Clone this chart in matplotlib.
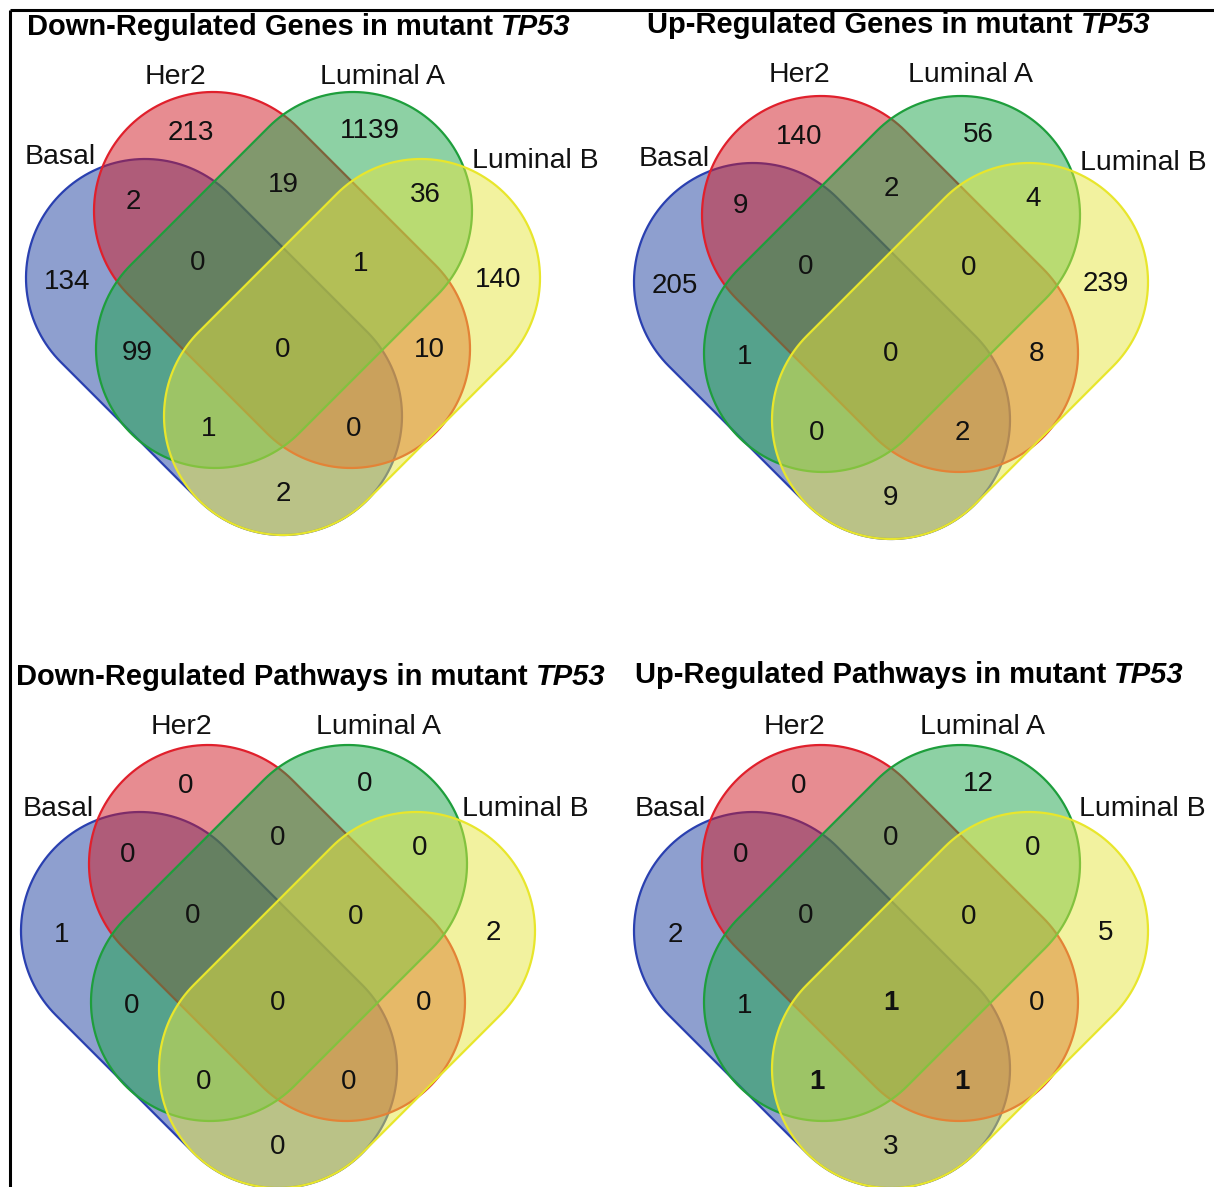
import numpy as np
import matplotlib.pyplot as plt
from matplotlib.patches import Polygon
from matplotlib.colors import to_rgba

plt.rcParams['font.family'] = ['Liberation Sans', 'DejaVu Sans']

# set names and region counts (order of regions below)
set_names = ['Basal', 'Her2', 'Luminal A', 'Luminal B']
regions = ['Her2', 'LumA', 'Basal&Her2', 'Her2&LumA', 'LumA&LumB',
           'Basal', 'Basal&Her2&LumA', 'Her2&LumA&LumB', 'LumB',
           'Basal&LumA', 'All', 'Her2&LumB',
           'Basal&LumA&LumB', 'Basal&Her2&LumB', 'Basal&LumB']

down_genes = [213, 1139, 2, 19, 36, 134, 0, 1, 140, 99, 0, 10, 1, 0, 2]
up_genes = [140, 56, 9, 2, 4, 205, 0, 0, 239, 1, 0, 8, 0, 2, 9]
down_pathways = [0, 0, 0, 0, 0, 1, 0, 0, 2, 0, 0, 0, 0, 0, 0]
up_pathways = [0, 12, 0, 0, 0, 2, 0, 0, 5, 1, 1, 0, 1, 1, 3]

titles = ['Down-Regulated Genes in mutant ', 'Up-Regulated Genes in mutant ',
          'Down-Regulated Pathways in mutant ', 'Up-Regulated Pathways in mutant ']
panel_data = [down_genes, up_genes, down_pathways, up_pathways]
bold_regions = [[], [], [], ['All', 'Basal&LumA&LumB', 'Basal&Her2&LumB']]

# ---- layout (pixels) ----
W, H = 1214, 1187
origins = [(283, 347), (891, 351), (278, 1000), (891, 1000)]
title_pos = [(27, 27), (647, 25), (16, 677), (635, 675)]
label_offsets = [
    [(-223, -190), (-108, -270), (100, -270), (252, -186)],
    [(-217, -192), (-92, -276), (79, -276), (252, -188)],
    [(-220, -191), (-97, -273), (101, -273), (247, -191)],
    [(-221, -191), (-97, -273), (92, -273), (251, -191)],
]
num_offsets = {
    'Her2': (-92, -214), 'LumA': (87, -216), 'Basal&Her2': (-150, -145),
    'Her2&LumA': (0, -162), 'LumA&LumB': (142, -152), 'Basal': (-216, -65),
    'Basal&Her2&LumA': (-85, -84), 'Her2&LumA&LumB': (78, -83),
    'LumB': (215, -67), 'Basal&LumA': (-146, 6), 'All': (0, 3),
    'Her2&LumB': (146, 3), 'Basal&LumA&LumB': (-74, 82),
    'Basal&Her2&LumB': (71, 82), 'Basal&LumB': (0, 147),
}

R = 119
# capsule end centres relative to panel origin
capsules = [
    ((-138, -69), (0, 69)),     # Basal
    ((-70, -136), (68, 2)),     # Her2
    ((70, -136), (-68, 2)),     # Luminal A
    ((138, -69), (0, 69)),      # Luminal B
]
fills = ['#1f41a0', '#d11a24', '#1da54b', '#e6e641']
edges = ['#2a40b0', '#e0202c', '#1e9e3c', '#e8e62c']


def capsule(c1, c2, r, n=80):
    c1, c2 = np.array(c1, float), np.array(c2, float)
    d = c2 - c1
    th = np.arctan2(d[1], d[0])
    a2 = np.linspace(th - np.pi / 2, th + np.pi / 2, n)
    a1 = np.linspace(th + np.pi / 2, th + 3 * np.pi / 2, n)
    p2 = c2 + r * np.column_stack([np.cos(a2), np.sin(a2)])
    p1 = c1 + r * np.column_stack([np.cos(a1), np.sin(a1)])
    return np.vstack([p2, p1])


fig = plt.figure(figsize=(W / 100, H / 100), dpi=100)
ax = fig.add_axes([0, 0, 1, 1])
ax.set_xlim(0, W)
ax.set_ylim(H, 0)
ax.axis('off')

# frame lines
ax.plot([10, W], [10, 10], color='black', lw=2.2, solid_capstyle='butt')
ax.plot([10, 10], [10, H], color='black', lw=2.2, solid_capstyle='butt')

for k in range(4):
    ox, oy = origins[k]
    for (c1, c2), fc, ec in zip(capsules, fills, edges):
        pts = capsule((ox + c1[0], oy + c1[1]), (ox + c2[0], oy + c2[1]), R)
        ax.add_patch(Polygon(pts, closed=True, facecolor=to_rgba(fc, 0.5),
                             edgecolor=ec, lw=1.6, zorder=1))

    for name, val in zip(regions, panel_data[k]):
        dx, dy = num_offsets[name]
        weight = 'bold' if name in bold_regions[k] else 'normal'
        ax.text(ox + dx, oy + dy, str(val), ha='center', va='center',
                fontsize=20, color='#111111', fontweight=weight, zorder=3)

    for name, (dx, dy) in zip(set_names, label_offsets[k]):
        ax.text(ox + dx, oy + dy, name, ha='center', va='center',
                fontsize=20.5, color='#111111', zorder=3)

    tx, ty = title_pos[k]
    t1 = ax.text(tx, ty, titles[k], ha='left', va='center', fontsize=21,
                 fontweight='bold', color='black')
    ax.annotate('TP53', xy=(1, 0.5), xycoords=t1, ha='left', va='center',
                fontsize=21, fontweight='bold', fontstyle='italic', color='black')

fig.savefig('out.png', dpi=100)
